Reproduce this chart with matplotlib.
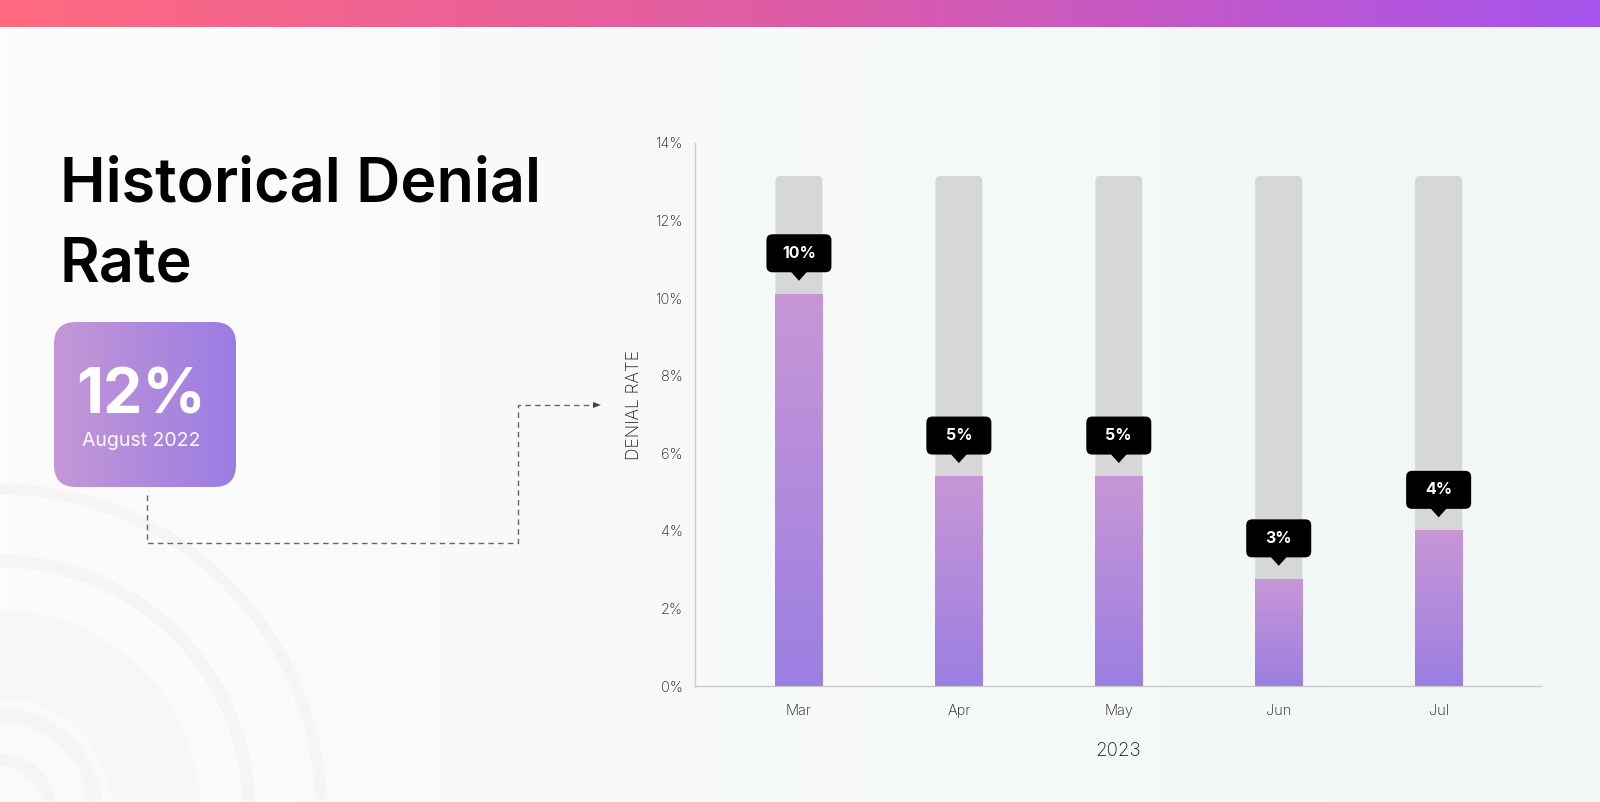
import numpy as np
import matplotlib
matplotlib.use("Agg")
import matplotlib.pyplot as plt
import matplotlib.patches as mpatches
import matplotlib.transforms as mtransforms
from matplotlib.colors import LinearSegmentedColormap

plt.rcParams['font.family'] = ['Inter', 'DejaVu Sans']
plt.rcParams['lines.scale_dashes'] = False

# data
months = ['Mar', 'Apr', 'May', 'Jun', 'Jul']
rates = [10.1, 5.4, 5.4, 2.75, 4.0]
rate_labels = ['10%', '5%', '5%', '3%', '4%']
track_max = 13.15
y_ticks = [0, 2, 4, 6, 8, 10, 12, 14]
y_tick_labels = ['0%', '2%', '4%', '6%', '8%', '10%', '12%', '14%']
year_label = '2023'
headline_value = '12%'
headline_period = 'August 2022'
title_lines = ['Historical Denial', 'Rate']

W, H = 1600, 802
fig = plt.figure(figsize=(W / 100, H / 100), dpi=100)

# background layer in pixel coordinates (y down)
bg = fig.add_axes([0, 0, 1, 1])
bg.set_xlim(0, W)
bg.set_ylim(H, 0)
bg.axis('off')

grad = np.linspace(0, 1, 256).reshape(1, -1)
bg_cmap = LinearSegmentedColormap.from_list('bg', ['#fcfcfc', '#f1f7f6'])
bg.imshow(grad, cmap=bg_cmap, extent=[0, W, H, 0], aspect='auto', zorder=0)

top_cmap = LinearSegmentedColormap.from_list('top', ['#ff6a80', '#de5ca6', '#a654ee'])
bg.imshow(grad, cmap=top_cmap, extent=[0, W, 27, 0], aspect='auto', zorder=1)

# faint concentric rings, bottom left
ring_c = '#f5f5f5'
bg.add_patch(mpatches.Circle((0, 810), 200, fc='#f7f7f7', ec='none', zorder=1))
bg.add_patch(mpatches.Circle((0, 810), 112, fc='#fafafa', ec='none', zorder=1))
bg.add_patch(mpatches.Circle((0, 810), 95, fc='none', ec=ring_c, lw=10, zorder=1))
bg.add_patch(mpatches.Circle((0, 810), 50, fc='none', ec=ring_c, lw=9, zorder=1))
bg.add_patch(mpatches.Circle((0, 810), 249, fc='none', ec=ring_c, lw=9, zorder=1))
bg.add_patch(mpatches.Circle((0, 810), 321, fc='none', ec=ring_c, lw=8, zorder=1))

# title
bg.text(60, 202, title_lines[0], fontsize=44, fontweight='semibold', color='black', zorder=3)
bg.text(60, 281, title_lines[1], fontsize=44, fontweight='semibold', color='black', zorder=3)

# headline card
card = mpatches.FancyBboxPatch((54, 322), 182, 165, boxstyle='round,pad=0,rounding_size=22',
                               fc='none', ec='none', zorder=2)
bg.add_patch(card)
card_cmap = LinearSegmentedColormap.from_list('card', ['#c597d7', '#9a7de3'])
im = bg.imshow(grad, cmap=card_cmap, extent=[54, 236, 487, 322], aspect='auto', zorder=2)
im.set_clip_path(card)
bg.text(141, 413, headline_value, fontsize=45, fontweight='bold', color='white',
        ha='center', va='baseline', zorder=3)
bg.text(141, 446, headline_period, fontsize=14, color='white', ha='center', va='baseline', zorder=3)

# dashed connector
px = [147, 147, 518, 518, 596]
py = [495, 543, 543, 405, 405]
bg.plot(px, py, color='#666666', lw=1, dashes=(4, 3), zorder=2)
bg.add_patch(mpatches.Polygon([(593, 402), (593, 408), (601, 405)], closed=True,
                              fc='#444444', ec='none', zorder=2))

# chart
ax = fig.add_axes([695 / W, (H - 686) / H, (1541 - 695) / W, (686 - 143) / H])
ax.set_facecolor('none')
xpos = np.arange(len(months))
bar_w = 0.294
ax.set_xlim(-0.65, len(months) - 1 + 0.64)
ax.set_ylim(0, 14)

# rounded grey tracks
px_per_x = (1541 - 695) / (ax.get_xlim()[1] - ax.get_xlim()[0])
px_per_y = (686 - 143) / 14
for x in xpos:
    ax.add_patch(mpatches.FancyBboxPatch((x - bar_w / 2, 0), bar_w, track_max,
                                         boxstyle='round,pad=0,rounding_size=%f' % (5 / px_per_x),
                                         mutation_aspect=px_per_x / px_per_y,
                                         fc='#d6d7d9', ec='none', zorder=1))

# value bars with vertical gradient
bars = ax.bar(xpos, rates, bar_w, color='#9b7fe2', zorder=2)
bar_cmap = LinearSegmentedColormap.from_list('bar', ['#9b7fe2', '#c896d6'])
vgrad = np.linspace(0, 1, 256).reshape(-1, 1)
for b in bars:
    ax.imshow(vgrad, cmap=bar_cmap, origin='lower', aspect='auto', zorder=3,
              extent=[b.get_x(), b.get_x() + b.get_width(), 0, b.get_height()])

# tooltips (pixel offsets from bar top)
for x, v, lab in zip(xpos, rates, rate_labels):
    tr = mtransforms.Affine2D() + mtransforms.ScaledTranslation(x, v, ax.transData)
    ax.add_patch(mpatches.FancyBboxPatch((-32.5, 22), 65, 38, boxstyle='round,pad=0,rounding_size=6',
                                         fc='black', ec='none', transform=tr, zorder=5, clip_on=False))
    ax.add_patch(mpatches.Polygon([(-8.5, 23), (8.5, 23), (0, 13.5)], closed=True,
                                  fc='black', ec='none', transform=tr, zorder=5, clip_on=False))
    ax.text(0, 41, lab, transform=tr, ha='center', va='center', color='white',
            fontsize=11.5, fontweight='bold', zorder=6)

ax.set_xlim(-0.65, len(months) - 1 + 0.64)
ax.set_ylim(0, 14)
ax.set_xticks(xpos)
ax.set_xticklabels(months)
ax.set_yticks(y_ticks)
ax.set_yticklabels(y_tick_labels)
ax.tick_params(axis='both', length=0, labelsize=10.5, labelcolor='#1a1a1a')
ax.tick_params(axis='y', pad=9)
ax.tick_params(axis='x', pad=13)
for lbl in ax.get_xticklabels() + ax.get_yticklabels():
    lbl.set_fontweight('light')
for s in ['top', 'right']:
    ax.spines[s].set_visible(False)
for s in ['left', 'bottom']:
    ax.spines[s].set_color('#cccccc')
    ax.spines[s].set_linewidth(1)
ax.set_xlabel(year_label, fontsize=13.5, color='#1a1a1a', labelpad=17, fontweight='light')
ax.set_ylabel('DENIAL RATE', fontsize=12.5, color='#1a1a1a', fontweight='light')
ax.yaxis.set_label_coords((643 - 695) / 846, (686 - 405) / 543)

fig.savefig('out.png', dpi=100)
